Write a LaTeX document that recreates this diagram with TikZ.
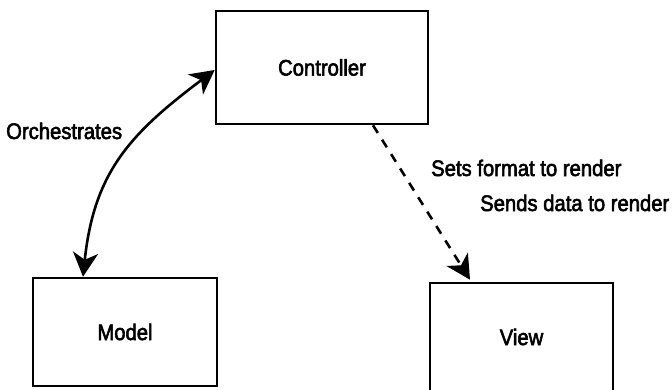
\documentclass[tikz,border=0pt]{standalone}
\usepackage{fontspec}
\setmainfont{Liberation Sans}[FakeStretch=0.9,FakeBold=2.5]
\usetikzlibrary{arrows.meta}
\begin{document}
\begin{tikzpicture}[x=1pt,y=1pt,
  box/.style={draw=black,line width=2.6pt,rectangle,font=\fontsize{22.5}{26}\selectfont},
  lbl/.style={font=\fontsize{22.5}{26}\selectfont,inner sep=0pt,anchor=base west},
  conn/.style={line width=2.6pt,draw=black}]
\useasboundingbox (0,0) rectangle (672,389);
\clip (0,0) rectangle (672,389);
\node[box,minimum width=212pt,minimum height=113pt] (controller) at (322,321.5) {Controller};
\node[box,minimum width=184pt,minimum height=108pt] (model) at (125,57) {Model};
\node[box,minimum width=183pt,minimum height=108pt] (view) at (521.5,52) {View};
\node[lbl] (orch) at (6,250) {Orchestrates};
\node[lbl] (sets) at (431,213) {Sets format to render};
\node[lbl] (sends) at (480,178) {Sends data to render};
\draw[conn,{Stealth[length=24pt,width=25pt,inset=7pt]}-{Stealth[length=24pt,width=25pt,inset=7pt]}]
  ([xshift=-42pt]model.north) to[out=84,in=217,looseness=1.1] ([yshift=-2.5pt]controller.west);
\draw[conn,dash pattern=on 9pt off 8pt,-{Stealth[length=24pt,width=25pt,inset=7pt]}]
  ([xshift=51pt]controller.south) -- ([xshift=-51.5pt,yshift=2pt]view.north);
\end{tikzpicture}
\end{document}
